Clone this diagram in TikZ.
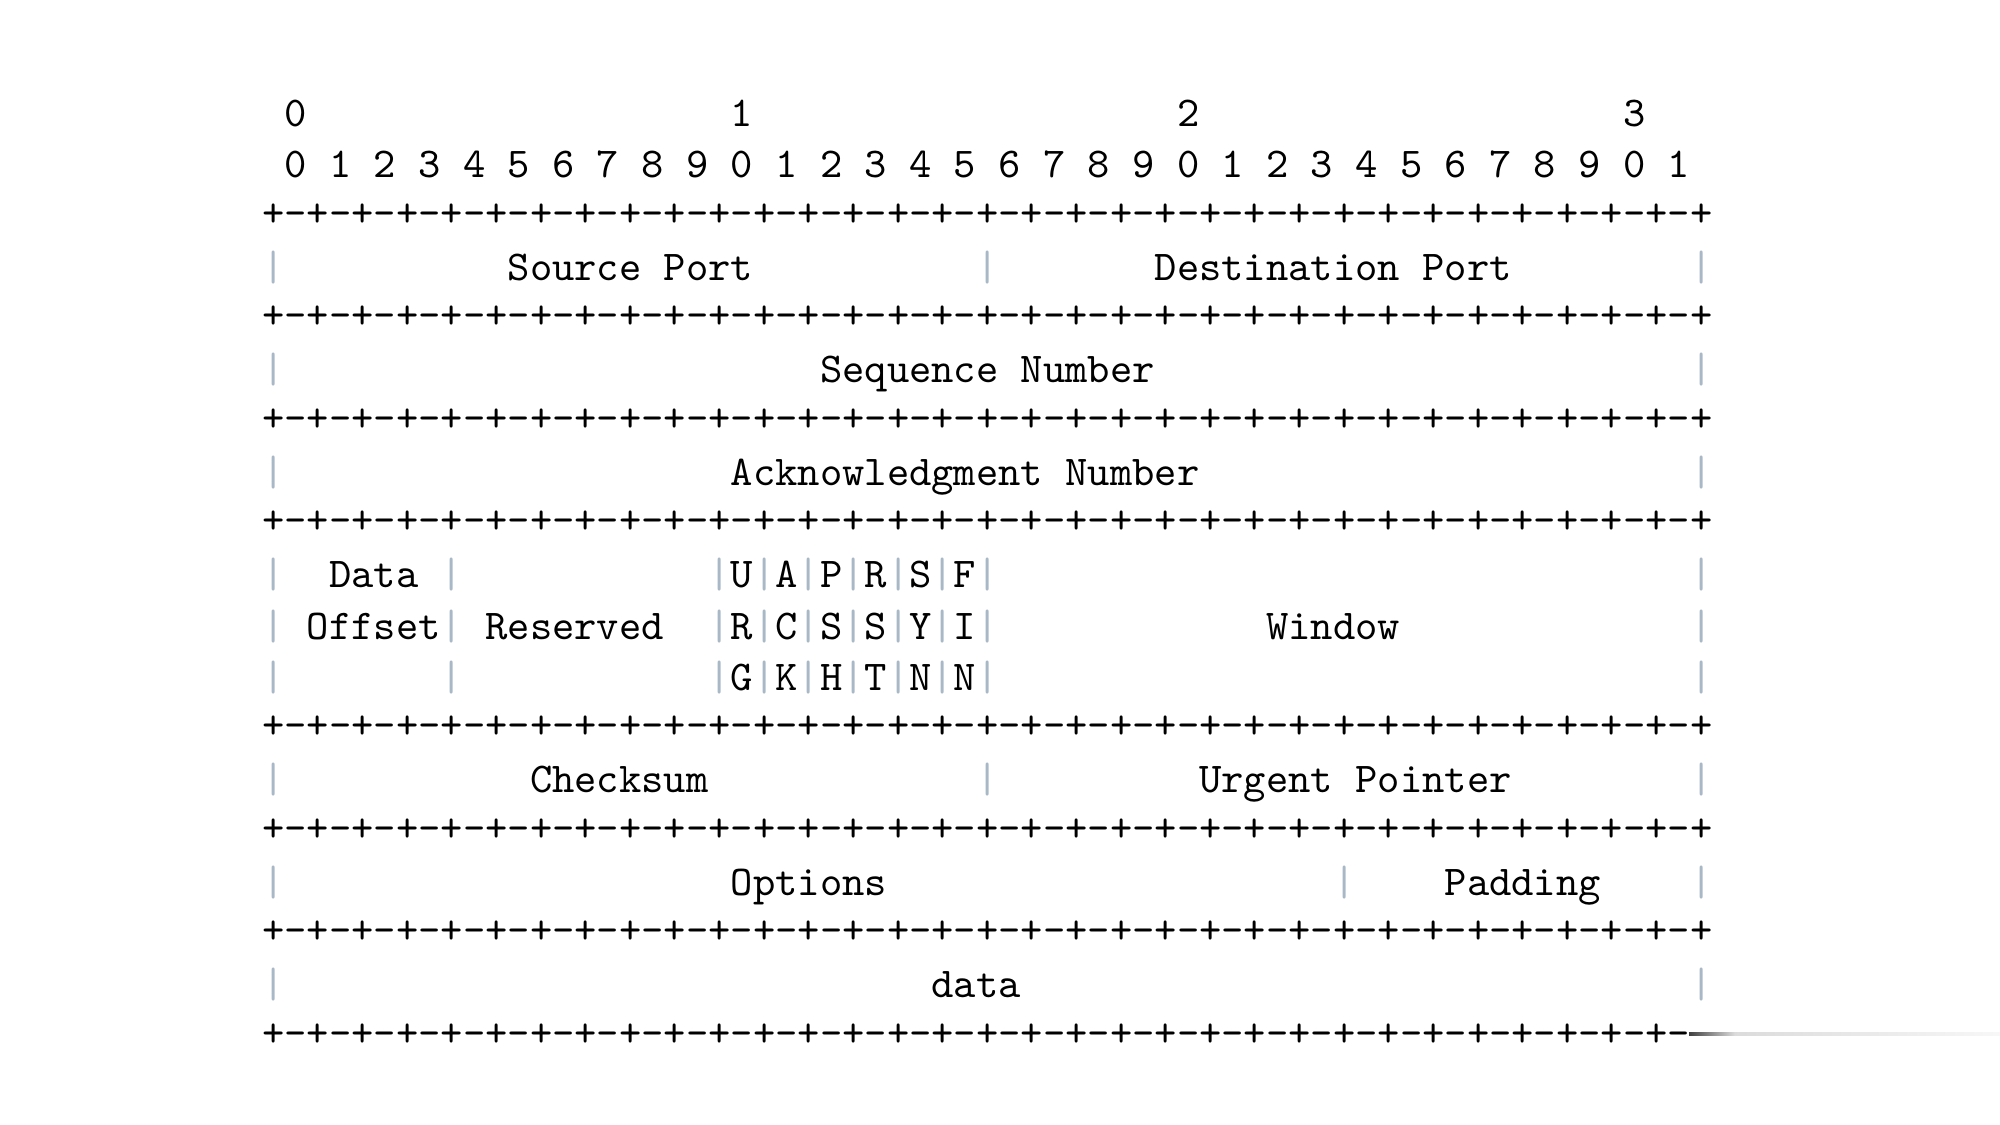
\documentclass[tikz,border=0pt]{standalone}
\definecolor{barcol}{RGB}{168,184,198}
\tikzset{
  txt/.style={inner sep=0pt, outer sep=0pt, font=\ttfamily\fontsize{10}{12}\selectfont, text=black},
  ch/.style={txt, anchor=base},
  word/.style={txt, anchor=base west},
  bar/.style={ch, text=barcol},
}
\newcommand\bo{0.29}
\newcommand\pbo{0.235}
\newcommand\plusrow{+-+-+-+-+-+-+-+-+-+-+-+-+-+-+-+-+-+-+-+-+-+-+-+-+-+-+-+-+-+-+-+-+}
\newcommand\plusrowcut{+-+-+-+-+-+-+-+-+-+-+-+-+-+-+-+-+-+-+-+-+-+-+-+-+-+-+-+-+-+-+-+-}
\begin{document}
\begin{tikzpicture}[x=5.25pt,y=-12.06pt]
\fill[white] (-12.26,-2.18) rectangle (77.39,19.77);
\useasboundingbox (-12.26,-2.18) rectangle (77.39,19.77);
% bit numbering
\foreach \c/\d [count=\i] in {1/0,21/1,41/2,61/3}
  \node[ch,name=top\i] at (\c,0+\bo) {\d};
\foreach \k in {0,...,31} {
  \pgfmathtruncatemacro\dig{mod(\k,10)}
  \pgfmathtruncatemacro\col{2*\k+1}
  \node[ch,name=bit\k] at (\col,1+\bo) {\dig};
}
% separator rows
\foreach \l in {2,4,6,8,12,14,16}
  \node[word,name=sep\l] at (-0.5,\l+\pbo) {\plusrow};
\node[word,name=sep18] at (-0.5,18+\pbo) {\plusrowcut};
\shade[left color=black!75, right color=black!14] (63.45,17.975) rectangle (65.5,18.035);
\shade[left color=black!14, right color=black!3] (65.5,17.975) rectangle (77.39,18.035);
% vertical bars
\foreach \c/\l in {0/3,32/3,64/3, 0/5,64/5, 0/7,64/7,
  0/9,8/9,20/9,22/9,24/9,26/9,28/9,30/9,32/9,64/9,
  0/10,8/10,20/10,22/10,24/10,26/10,28/10,30/10,32/10,64/10,
  0/11,8/11,20/11,22/11,24/11,26/11,28/11,30/11,32/11,64/11,
  0/13,32/13,64/13, 0/15,48/15,64/15, 0/17,64/17}
  \node[bar,name=bar\c-\l] at (\c,\l+\bo) {|};
% flags
\foreach \c/\a/\b/\g in {21/U/R/G, 23/A/C/K, 25/P/S/H, 27/R/S/T, 29/S/Y/N, 31/F/I/N} {
  \node[ch,name=fa\c] at (\c,9+\bo) {\a};
  \node[ch,name=fb\c] at (\c,10+\bo) {\b};
  \node[ch,name=fc\c] at (\c,11+\bo) {\g};
}
% field names
\node[word,name=srcport] at (10.5,3+\bo) {Source Port};
\node[word,name=dstport] at (39.5,3+\bo) {Destination Port};
\node[word,name=seqnum] at (24.5,5+\bo) {Sequence Number};
\node[word,name=acknum] at (20.5,7+\bo) {Acknowledgment Number};
\node[word,name=data1] at (2.5,9+\bo) {Data};
\node[word,name=offset] at (1.5,10+\bo) {Offset};
\node[word,name=reserved] at (9.5,10+\bo) {Reserved};
\node[word,name=window] at (44.5,10+\bo) {Window};
\node[word,name=checksum] at (11.5,13+\bo) {Checksum};
\node[word,name=urgent] at (41.5,13+\bo) {Urgent Pointer};
\node[word,name=options] at (20.5,15+\bo) {Options};
\node[word,name=padding] at (52.5,15+\bo) {Padding};
\node[word,name=data] at (29.5,17+\bo) {data};
\end{tikzpicture}
\end{document}
